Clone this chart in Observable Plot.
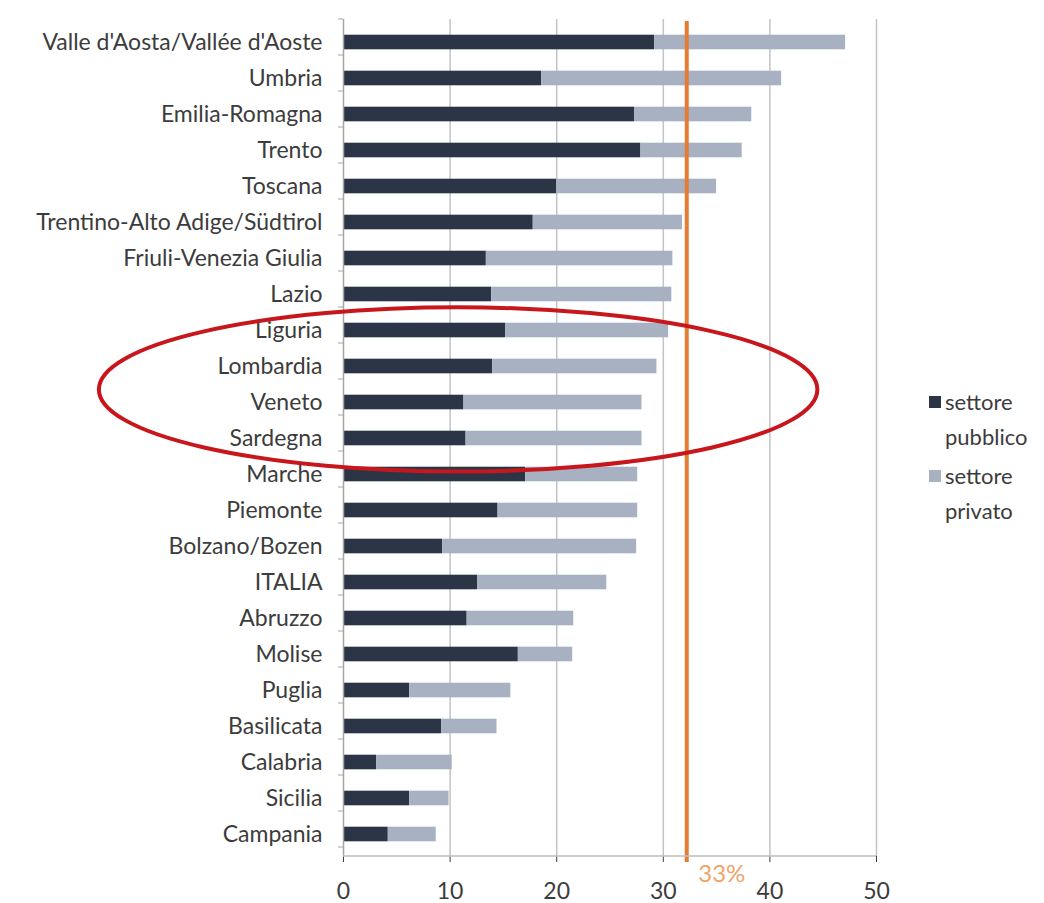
<!DOCTYPE html>
<html>
<head>
<meta charset="utf-8">
<script src="https://cdn.jsdelivr.net/npm/d3@7"></script>
<script src="https://cdn.jsdelivr.net/npm/@observablehq/plot@0.6"></script>
<style>
  html, body { margin: 0; padding: 0; background: #fff; }
  #wrap { position: relative; width: 1044px; height: 903px; font-family: Lato, "Open Sans", sans-serif; }
  #legend { position: absolute; left: 929px; top: 384px; font-size: 22px; color: #3c3c3c; line-height: 35px; }
  #legend .item { display: flex; align-items: flex-start; margin-bottom: 4px; }
  #legend .sw { width: 12px; height: 12px; margin-top: 12px; margin-right: 4px; flex: none; }
</style>
</head>
<body>
<div id="wrap"><div id="legend"></div></div>
<script>
const regions = [
  "Valle d'Aosta/Vallée d'Aoste", "Umbria", "Emilia-Romagna", "Trento", "Toscana",
  "Trentino-Alto Adige/Südtirol", "Friuli-Venezia Giulia", "Lazio", "Liguria", "Lombardia",
  "Veneto", "Sardegna", "Marche", "Piemonte", "Bolzano/Bozen", "ITALIA", "Abruzzo",
  "Molise", "Puglia", "Basilicata", "Calabria", "Sicilia", "Campania"
];
const pubblico = [29.2, 18.6, 27.3, 27.9, 20.0, 17.8, 13.4, 13.9, 15.2, 14.0, 11.3, 11.5, 17.1, 14.5, 9.3, 12.6, 11.6, 16.4, 6.2, 9.2, 3.1, 6.2, 4.2];
const privato  = [17.9, 22.5, 11.0, 9.5, 15.0, 14.0, 17.5, 16.9, 15.3, 15.4, 16.7, 16.5, 10.5, 13.1, 18.2, 12.1, 10.0, 5.1, 9.5, 5.2, 7.1, 3.7, 4.5];
const seriesNames = ["settore pubblico", "settore privato"];
const seriesLegend = [["settore", "pubblico"], ["settore", "privato"]];
const seriesColors = ["#2b3546", "#a7b1c2"];
const xTicks = [0, 10, 20, 30, 40, 50];
const targetLine = [32.2];
const targetLabel = "33%";
const highlighted = ["Liguria", "Lombardia", "Veneto", "Sardegna"];

const rows = [];
regions.forEach((r, i) => {
  rows.push({region: r, series: seriesNames[0], value: pubblico[i]});
  rows.push({region: r, series: seriesNames[1], value: privato[i]});
});

// axis line, small y ticks, and the hand-drawn red ellipse annotation
function annotationMark(index, scales, values, dims) {
  const x = scales.x, y = scales.y;
  const step = y.step ? y.step() : (dims.height - dims.marginTop - dims.marginBottom) / regions.length;
  const bw = y.bandwidth ? y.bandwidth() : 0;
  const ns = "http://www.w3.org/2000/svg";
  const g = document.createElementNS(ns, "g");
  const bottom = dims.height - dims.marginBottom;
  const line = (x1, y1, x2, y2, stroke, w) => {
    const t = document.createElementNS(ns, "line");
    t.setAttribute("x1", x1); t.setAttribute("x2", x2);
    t.setAttribute("y1", y1); t.setAttribute("y2", y2);
    t.setAttribute("stroke", stroke); t.setAttribute("stroke-width", w);
    g.appendChild(t);
  };
  line(x(0), bottom, x(50), bottom, "#bdbdbd", 1.5);
  for (let i = 0; i <= regions.length; i++) {
    const yy = dims.marginTop + i * step;
    line(x(0) - 5, yy, x(0), yy, "#a6a6a6", 1);
  }
  const centers = highlighted.map(r => y(r) + bw / 2);
  const e = document.createElementNS(ns, "ellipse");
  e.setAttribute("cx", x(10.8));
  e.setAttribute("cy", d3.mean(centers) + 0.15 * step);
  e.setAttribute("rx", x(33.7) - x(0));
  e.setAttribute("ry", 2.28 * step);
  e.setAttribute("fill", "none");
  e.setAttribute("stroke", "#c8161d");
  e.setAttribute("stroke-width", 4);
  g.appendChild(e);
  return g;
}

const chart = Plot.plot({
  width: 1044,
  height: 903,
  marginTop: 19,
  marginBottom: 47,
  marginLeft: 343,
  marginRight: 168,
  style: {fontFamily: "Lato, 'Open Sans', sans-serif", fontSize: "23px", color: "#3c3c3c", background: "#fff"},
  x: {domain: [0, 50], ticks: xTicks, label: null, tickSize: 6, tickPadding: 20},
  y: {domain: regions, label: null, padding: 0, tickSize: 0, tickPadding: 21},
  color: {domain: seriesNames, range: seriesColors},
  marks: [
    Plot.ruleX(xTicks.filter(d => d > 0), {stroke: "#c3c3c3", strokeWidth: 1.5}),
    Plot.barX(rows, Plot.stackX({x: "value", y: "region", fill: "series", insetTop: 10.7, insetBottom: 10.7})),
    Plot.ruleX([0], {stroke: "#a6a6a6", strokeWidth: 1.5}),
    Plot.ruleX(targetLine, {stroke: "#e57c34", strokeWidth: 4, insetTop: 2, insetBottom: -6}),
    Plot.text(targetLine, {x: d => d, text: () => targetLabel, frameAnchor: "bottom", dy: 25, dx: 35, fill: "#f0a36a", fontSize: 24}),
    annotationMark
  ]
});
document.getElementById("wrap").prepend(chart);

const legend = document.getElementById("legend");
seriesLegend.forEach((lines, i) => {
  const item = document.createElement("div");
  item.className = "item";
  const sw = document.createElement("div");
  sw.className = "sw";
  sw.style.background = seriesColors[i];
  const txt = document.createElement("div");
  txt.innerHTML = lines.join("<br>");
  item.appendChild(sw); item.appendChild(txt);
  legend.appendChild(item);
});
</script>
</body>
</html>
